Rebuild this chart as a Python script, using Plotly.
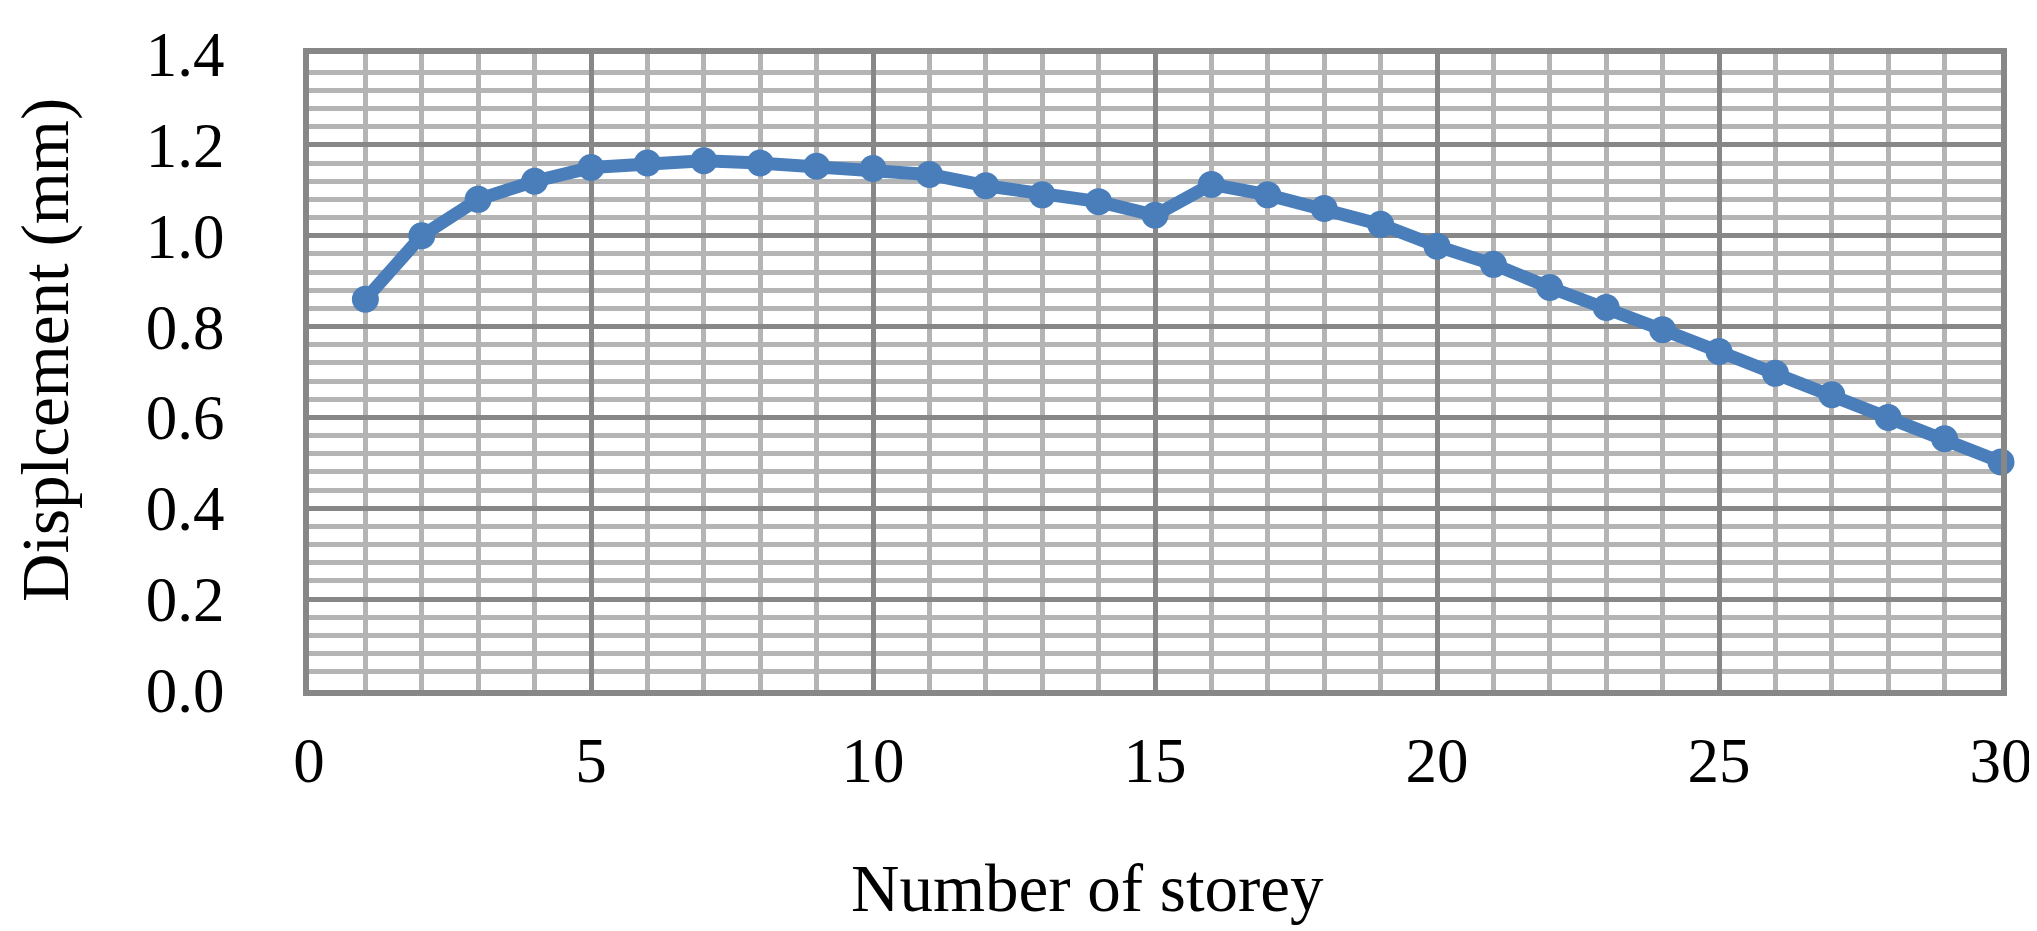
import plotly.graph_objects as go

# --- DATA ---
storey = list(range(1, 31))
displacement = [0.86, 1.00, 1.08, 1.12, 1.15, 1.16, 1.165, 1.16, 1.153, 1.148,
                1.135, 1.11, 1.09, 1.075, 1.045, 1.113, 1.09, 1.06, 1.025, 0.977,
                0.937, 0.886, 0.842, 0.793, 0.745, 0.697, 0.65, 0.60, 0.553, 0.502]

X_TITLE = "Number of storey"
Y_TITLE = "Displcement (mm)"

# --- STYLE ---
BLUE = "#4A7EBB"
MAJOR = "#878787"
MINOR = "#B4B4B4"
FONT = "Liberation Serif"

fig = go.Figure()
fig.add_trace(go.Scatter(
    x=storey, y=displacement, mode="lines+markers",
    line=dict(color=BLUE, width=13),
    marker=dict(color=BLUE, size=27),
    cliponaxis=False, showlegend=False,
))

fig.update_xaxes(
    range=[0, 30], dtick=5, tick0=0,
    showgrid=True, gridcolor=MAJOR, gridwidth=5,
    minor=dict(dtick=1, showgrid=True, gridcolor=MINOR, gridwidth=5),
    showline=True, linecolor=MAJOR, linewidth=6, mirror=True,
    zeroline=False, ticks="", ticklabelstandoff=10,
    tickfont=dict(family=FONT, size=63, color="black"),
)
fig.update_yaxes(
    range=[0, 1.4], dtick=0.2, tick0=0, tickformat=".1f",
    showgrid=True, gridcolor=MAJOR, gridwidth=5,
    minor=dict(dtick=0.04, showgrid=True, gridcolor=MINOR, gridwidth=5),
    showline=True, linecolor=MAJOR, linewidth=6, mirror=True,
    zeroline=False, ticks="", ticklabelstandoff=66,
    tickfont=dict(family=FONT, size=63, color="black"),
)

fig.update_layout(
    width=2037, height=931,
    margin=dict(l=301, r=41, t=42, b=249),
    plot_bgcolor="white", paper_bgcolor="white",
    annotations=[
        dict(text=X_TITLE, xref="paper", yref="paper", x=0.46, y=0,
             yanchor="middle", yshift=-198, showarrow=False,
             font=dict(family=FONT, size=67, color="black")),
        dict(text=Y_TITLE, xref="paper", yref="paper", x=0, y=0.5,
             xanchor="center", yshift=22, xshift=-264, textangle=-90,
             showarrow=False,
             font=dict(family=FONT, size=67, color="black")),
    ],
)

fig.write_html("out.html")
